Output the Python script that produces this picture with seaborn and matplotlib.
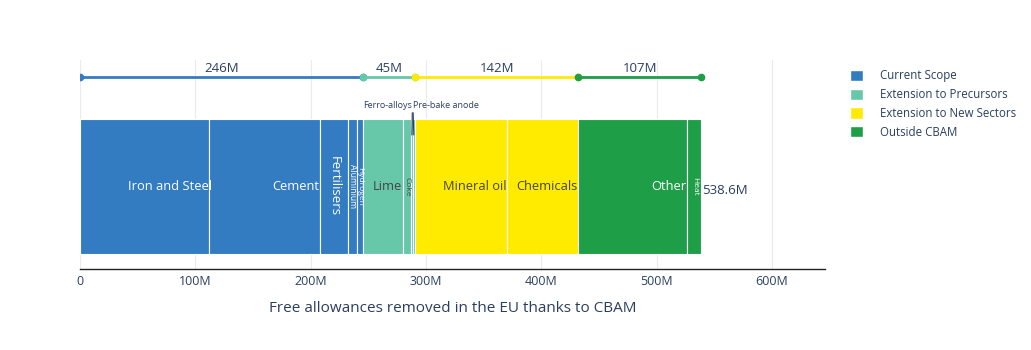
import numpy as np
import pandas as pd
import seaborn as sns
import matplotlib.pyplot as plt
from matplotlib.patches import Patch

# sectors, in the order they are stacked (values in millions)
sectors = ["Iron and Steel", "Cement", "Fertilisers", "Aluminium", "Hydrogen",
           "Lime", "Coke", "Ferro-alloys", "Pre-bake anode",
           "Mineral oil", "Chemicals",
           "Other", "Heat"]
values = [111.9, 96.2, 24.3, 7.8, 5.4,
          34.8, 6.6, 1.5, 1.9,
          79.8, 61.8,
          94.5, 12.1]
groups = ["Current Scope"] * 5 + ["Extension to Precursors"] * 4 + \
         ["Extension to New Sectors"] * 2 + ["Outside CBAM"] * 2

group_names = ["Current Scope", "Extension to Precursors",
               "Extension to New Sectors", "Outside CBAM"]
group_colors = {"Current Scope": "#337CC1",
                "Extension to Precursors": "#66C7A9",
                "Extension to New Sectors": "#FFEB00",
                "Outside CBAM": "#1F9E48"}
text_colors = {"Current Scope": "white",
               "Extension to Precursors": "#444444",
               "Extension to New Sectors": "#444444",
               "Outside CBAM": "white"}

# how each label is drawn: None = annotated above the bar
label_rot = {"Iron and Steel": 0, "Cement": 0, "Fertilisers": 270, "Aluminium": 270,
             "Hydrogen": 270, "Lime": 0, "Coke": 270, "Ferro-alloys": None,
             "Pre-bake anode": None, "Mineral oil": 0, "Chemicals": 0,
             "Other": 0, "Heat": 270}
label_size = {"Iron and Steel": 9.3, "Cement": 9.3, "Fertilisers": 9.5, "Aluminium": 6.2,
              "Hydrogen": 6.0, "Lime": 9.3, "Coke": 6, "Mineral oil": 9.3,
              "Chemicals": 9.3, "Other": 9.3, "Heat": 6}
# inside labels sit against the segment's right end (plotly-style), the first one spills and gets cut
label_pad = {"Iron and Steel": -2.5}

df = pd.DataFrame({"sector": sectors, "value": values, "group": groups})
df["left"] = df["value"].cumsum() - df["value"]
df["right"] = df["value"].cumsum()

totals = df.groupby("group", sort=False)["value"].sum()
group_end = totals.cumsum()
group_start = group_end - totals

sns.set_style("white")
plt.rcParams["font.family"] = ["Open Sans", "DejaVu Sans"]
ink = "#2A3F5F"

fig = plt.figure(figsize=(10.31, 3.5), dpi=100)
ax = fig.add_axes([80 / 1031, 1 - 269 / 350, 745 / 1031, 209 / 350])
ax.set_xlim(0, 646)
ax.set_ylim(0, 209)

bar_y, bar_h, line_y = 82.5, 135, 192

for _, row in df.iterrows():
    bars = ax.barh(bar_y, row["value"], left=row["left"], height=bar_h,
                   color=group_colors[row["group"]], edgecolor="white",
                   linewidth=0.8, zorder=2)
    rot = label_rot[row["sector"]]
    if rot is None:
        continue
    if rot == 0:
        pad = label_pad.get(row["sector"], 0.8)
        t = ax.text(row["right"] - pad, bar_y, row["sector"], ha="right", va="center",
                    fontsize=label_size[row["sector"]],
                    color=text_colors[row["group"]], zorder=3)
    else:
        t = ax.text((row["left"] + row["right"]) / 2, bar_y, row["sector"],
                    ha="center", va="center", rotation=rot, rotation_mode="anchor",
                    fontsize=label_size[row["sector"]],
                    color=text_colors[row["group"]], zorder=3)
    t.set_clip_path(bars.patches[0])

# small precursors annotated above the bar
fa = df[df["sector"] == "Ferro-alloys"].iloc[0]
pb = df[df["sector"] == "Pre-bake anode"].iloc[0]
ax.annotate("Ferro-alloys", xy=((fa["left"] + fa["right"]) / 2, 134),
            xytext=(fa["right"] - 0.3, 164), ha="right", va="center", fontsize=6.5,
            color=ink, arrowprops=dict(arrowstyle="-", color=ink, lw=0.8, relpos=(1, 0),
                                       shrinkA=0, shrinkB=0), zorder=4)
ax.annotate("Pre-bake anode", xy=((pb["left"] + pb["right"]) / 2, 134),
            xytext=(pb["left"] + 0.3, 164), ha="left", va="center", fontsize=6.5,
            color=ink, arrowprops=dict(arrowstyle="-", color=ink, lw=0.8, relpos=(0, 0),
                                       shrinkA=0, shrinkB=0), zorder=4)

# total at the end of the bar
ax.text(df["right"].iloc[-1] + 0.5, bar_y - 4, f"{df['right'].iloc[-1]:.1f}M",
        ha="left", va="center", fontsize=9.5, color=ink, zorder=3)

# summary line above the bar
for g in group_names:
    x0, x1 = group_start[g], group_end[g]
    line = pd.DataFrame({"x": [x0, x1], "y": [line_y, line_y]})
    sns.lineplot(data=line, x="x", y="y", color=group_colors[g], lw=2,
                 marker="o", markersize=5.5, markeredgewidth=0,
                 ax=ax, zorder=3)
    ax.text((x0 + x1) / 2, line_y + 2, f"{totals[g]:.0f}M", ha="center",
            va="bottom", fontsize=9.5, color=ink, zorder=4)

ax.set_xticks(np.arange(0, 700, 100))
ax.set_xticklabels(["0"] + [f"{v}M" for v in range(100, 700, 100)],
                   color=ink, fontsize=9)
ax.set_yticks([])
ax.set_xlabel("Free allowances removed in the EU thanks to CBAM",
              fontsize=11, color=ink, labelpad=10)
ax.set_ylabel("")
ax.grid(axis="x", color="#EBEBEB", lw=0.8, zorder=0)
ax.set_axisbelow(True)
ax.tick_params(axis="x", length=0, pad=4)
for s in ["top", "right", "left"]:
    ax.spines[s].set_visible(False)
ax.spines["bottom"].set_color("#222222")
ax.spines["bottom"].set_linewidth(1)

handles = [Patch(facecolor=group_colors[g], label=g) for g in group_names]
fig.legend(handles=handles, loc="upper left", bbox_to_anchor=(840 / 1031, 1 - 59 / 350),
           frameon=False, fontsize=8.3, handlelength=1.1, handleheight=1.1,
           labelcolor=ink, labelspacing=0.5, handletextpad=1.5)

fig.savefig("out.png", dpi=100)
